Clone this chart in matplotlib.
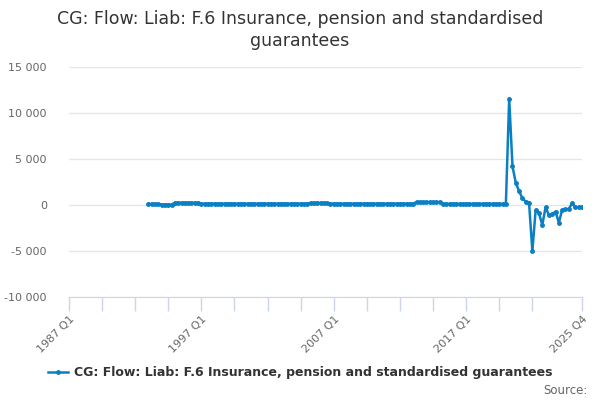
import matplotlib
matplotlib.use("Agg")
import matplotlib.pyplot as plt
from matplotlib.ticker import FuncFormatter, FixedLocator, FixedFormatter

# Quarters 1987 Q1 .. 2025 Q4 ; data starts 1993 Q1
n_quarters = 156
data_start_index = 24  # 1993 Q1

values = (
    [120, 120, 120, 120] +            # 1993
    [50, 50, 50, 50] +                # 1994
    [250, 250, 250, 250, 250, 250, 250, 250] +  # 1995-1996
    [150] * 33 +                      # 1997 Q1 - 2005 Q1
    [230] * 6 +
    [150] * 26 +
    [320] * 8 +
    [130] * 20 +                      # up to 2020 Q1
    [11550, 4200, 2400, 1500, 730, 360, 250,
     -5000, -540, -900, -2170, -250, -1090, -1000, -720,
     -1920, -540, -470, -430, 180, -250, -250, -250]
)

quarters = list(range(data_start_index, data_start_index + len(values)))

tick_positions = [0, 40, 80, 120, 155]
tick_labels = ["1987 Q1", "1997 Q1", "2007 Q1", "2017 Q1", "2025 Q4"]
minor_positions = [10, 20, 30, 50, 60, 70, 90, 100, 110, 130, 140]

series_name = "CG: Flow: Liab: F.6 Insurance, pension and standardised guarantees"
title = "CG: Flow: Liab: F.6 Insurance, pension and standardised\nguarantees"

line_color = "#0b7fc4"

fig = plt.figure(figsize=(6, 4), dpi=100)
ax = fig.add_axes([0.115, 0.2575, 0.855, 0.575])

ax.plot(quarters, values, color=line_color, lw=1.8, marker="o", ms=2.5,
        label=series_name, zorder=3)

ax.set_xlim(0, n_quarters - 1)
ax.set_ylim(-10000, 15000)
ax.set_yticks([-10000, -5000, 0, 5000, 10000, 15000])
ax.yaxis.set_major_formatter(FuncFormatter(lambda v, p: f"{int(v):,}".replace(",", " ")))
ax.grid(axis="y", color="#e6e6e6", lw=1)
ax.set_axisbelow(True)

for s in ["top", "right", "left"]:
    ax.spines[s].set_visible(False)
ax.spines["bottom"].set_color("#ccd6eb")

ax.xaxis.set_major_locator(FixedLocator(tick_positions))
ax.xaxis.set_major_formatter(FixedFormatter(tick_labels))
ax.xaxis.set_minor_locator(FixedLocator(minor_positions))
ax.tick_params(axis="x", which="both", length=10, color="#ccd6eb", width=1,
               labelsize=8, labelcolor="#666666", pad=2)
ax.tick_params(axis="y", length=0, labelsize=8, labelcolor="#666666", pad=16)
for lbl in ax.get_xticklabels():
    lbl.set_rotation(45)
    lbl.set_ha("right")
    lbl.set_rotation_mode("anchor")

fig.suptitle(title, y=0.975, fontsize=12.5, color="#333333", linespacing=1.25)

leg = fig.legend(loc="center", bbox_to_anchor=(0.5, 0.068), frameon=False,
                 fontsize=9, handlelength=1.6, handletextpad=0.5)
for t in leg.get_texts():
    t.set_color("#333333")
    t.set_fontweight("bold")

fig.text(0.98, 0.025, "Source:", ha="right", va="center", fontsize=8.5, color="#666666")

fig.savefig("out.png", dpi=100)
